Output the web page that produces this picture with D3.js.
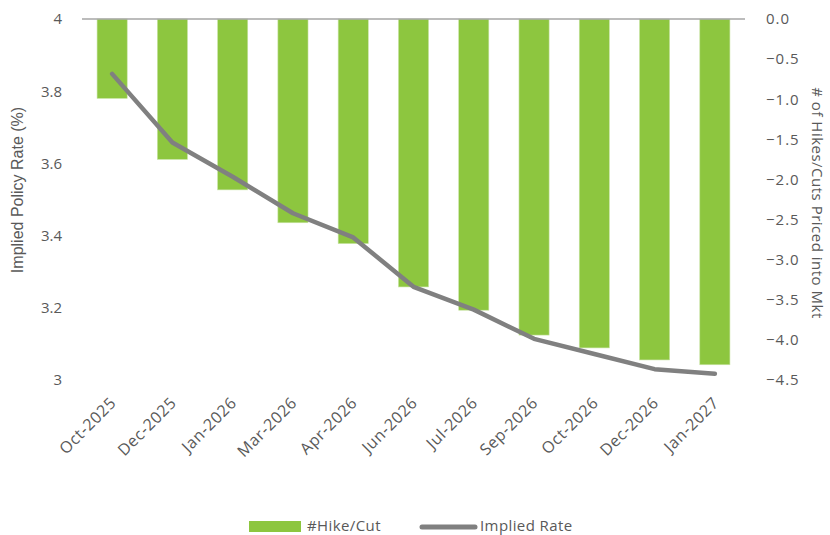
<!DOCTYPE html>
<html>
<head>
<meta charset="utf-8">
<script src="https://cdn.jsdelivr.net/npm/d3@7"></script>
<style>
  html, body { margin: 0; padding: 0; background: #ffffff; }
  svg { display: block; font-family: "Open Sans", "Noto Sans", sans-serif; }
</style>
</head>
<body>
<svg id="chart" width="830" height="535"></svg>
<script>
// Meeting months
const months = ["Oct-2025", "Dec-2025", "Jan-2026", "Mar-2026", "Apr-2026", "Jun-2026",
                "Jul-2026", "Sep-2026", "Oct-2026", "Dec-2026", "Jan-2027"];
// Cumulative number of hikes/cuts priced in (right axis)
const hikeCut = [-0.99, -1.75, -2.13, -2.54, -2.80, -3.34, -3.63, -3.94, -4.10, -4.25, -4.31];
// Implied policy rate in percent (left axis)
const impliedRate = [3.848, 3.658, 3.563, 3.462, 3.395, 3.258, 3.195, 3.114, 3.072, 3.030, 3.017];
// Axis ticks
const leftTicks = [3, 3.2, 3.4, 3.6, 3.8, 4];
const rightTicks = [0, -0.5, -1, -1.5, -2, -2.5, -3, -3.5, -4, -4.5];

const svg = d3.select("#chart");
const textColor = "#595959";
const barColor = "#8DC63F";
const lineColor = "#808080";

const plot = { left: 82, right: 745, top: 19, bottom: 380 };

const x = d3.scaleBand()
  .domain(months)
  .range([plot.left, plot.right])
  .paddingInner(0.5)
  .paddingOuter(0.25);

const yLeft = d3.scaleLinear().domain([3, 4]).range([plot.bottom, plot.top]);
const yRight = d3.scaleLinear().domain([-4.5, 0]).range([plot.bottom, plot.top]);

// Bars hang down from zero on the right axis
svg.append("g")
  .selectAll("rect")
  .data(hikeCut)
  .join("rect")
  .attr("x", (d, i) => x(months[i]))
  .attr("y", yRight(0))
  .attr("width", x.bandwidth())
  .attr("height", d => yRight(d) - yRight(0))
  .attr("fill", barColor)
  .attr("stroke", "#c9e4a6")
  .attr("stroke-width", 0.6);

// Horizontal category axis line along the top (zero of the bars)
svg.append("line")
  .attr("x1", plot.left).attr("x2", plot.right)
  .attr("y1", yRight(0)).attr("y2", yRight(0))
  .attr("stroke", "#a6a6a6")
  .attr("stroke-width", 1.5);

// Implied rate line
const line = d3.line()
  .x((d, i) => x(months[i]) + x.bandwidth() / 2)
  .y(d => yLeft(d));

svg.append("path")
  .datum(impliedRate)
  .attr("d", line)
  .attr("fill", "none")
  .attr("stroke", lineColor)
  .attr("stroke-width", 4.5)
  .attr("stroke-linecap", "round")
  .attr("stroke-linejoin", "round");

// Left axis
const leftAxis = svg.append("g")
  .attr("transform", `translate(${plot.left},0)`)
  .call(d3.axisLeft(yLeft).tickValues(leftTicks).tickSize(0).tickPadding(20).tickFormat(d => String(d)));
leftAxis.select(".domain").remove();
leftAxis.selectAll("text")
  .attr("fill", textColor)
  .style("font-size", "15px")
  .style("font-family", "'Open Sans', sans-serif");

// Right axis
const rightAxis = svg.append("g")
  .attr("transform", `translate(${plot.right},0)`)
  .call(d3.axisRight(yRight).tickValues(rightTicks).tickSize(0).tickPadding(21).tickFormat(d3.format(".1f")));
rightAxis.select(".domain").remove();
rightAxis.selectAll("text")
  .attr("fill", textColor)
  .style("font-size", "15px")
  .style("letter-spacing", "1px")
  .style("font-family", "'Open Sans', sans-serif");

// Category labels, rotated
svg.append("g")
  .selectAll("text")
  .data(months)
  .join("text")
  .attr("transform", d => `translate(${x(d) + x.bandwidth() / 2 + 1},${plot.bottom + 20}) rotate(-45)`)
  .attr("text-anchor", "end")
  .attr("dy", "0.35em")
  .attr("fill", textColor)
  .style("font-size", "16px")
  .style("letter-spacing", "0.6px")
  .text(d => d);

// Axis titles
svg.append("text")
  .attr("transform", "translate(23,190) rotate(-90)")
  .attr("text-anchor", "middle")
  .attr("fill", textColor)
  .style("font-size", "16px")
  .style("font-family", "'Liberation Sans', Arial, sans-serif")
  .text("Implied Policy Rate (%)");

svg.append("text")
  .attr("transform", "translate(812,203) rotate(90)")
  .attr("text-anchor", "middle")
  .attr("fill", textColor)
  .style("font-size", "15px")
  .style("letter-spacing", "0.5px")
  .text("# of Hikes/Cuts Priced into Mkt");

// Legend
const legend = svg.append("g");
legend.append("rect")
  .attr("x", 249).attr("y", 521)
  .attr("width", 52).attr("height", 11)
  .attr("fill", barColor);
legend.append("text")
  .attr("x", 307).attr("y", 531)
  .attr("fill", textColor)
  .style("font-size", "15px")
  .style("letter-spacing", "0.4px")
  .text("#Hike/Cut");
legend.append("line")
  .attr("x1", 422).attr("x2", 475)
  .attr("y1", 527).attr("y2", 527)
  .attr("stroke", lineColor)
  .attr("stroke-width", 5)
  .attr("stroke-linecap", "round");
legend.append("text")
  .attr("x", 480).attr("y", 531)
  .attr("fill", textColor)
  .style("font-size", "15px")
  .style("letter-spacing", "0.4px")
  .text("Implied Rate");
</script>
</body>
</html>
